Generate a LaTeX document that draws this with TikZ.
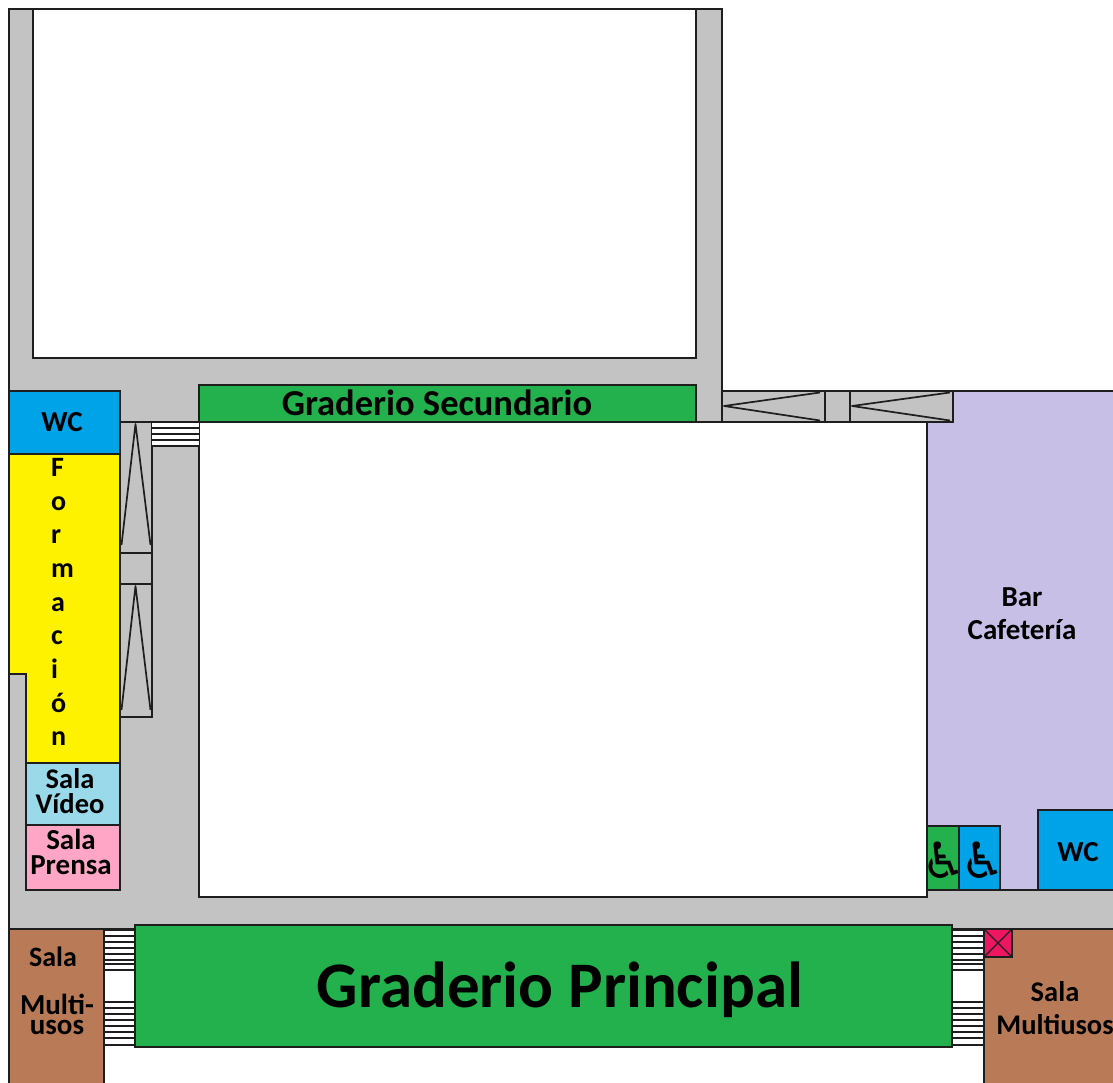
\documentclass[tikz,border=0pt]{standalone}
\usepackage{fontspec}
\setmainfont{Carlito}
\newfontfamily\symfont{DejaVu Sans}
\definecolor{pasillo}{HTML}{C3C3C3}
\definecolor{verde}{HTML}{22B14C}
\definecolor{azul}{HTML}{00A2E8}
\definecolor{amarillo}{HTML}{FFF200}
\definecolor{celeste}{HTML}{99D9EA}
\definecolor{rosa}{HTML}{FFA6C6}
\definecolor{marron}{HTML}{B97A57}
\definecolor{lila}{HTML}{C8BFE7}
\definecolor{rojo}{HTML}{F01560}
\definecolor{linea}{HTML}{1E1E1E}
\newcommand{\rotulo}[2]{\fontsize{#1}{#2}\selectfont\bfseries}
\tikzset{
	muro/.style={draw=linea,line width=2pt,line join=miter},
	texto/.style={inner sep=0pt,align=center,text=black},
	peldano/.style={draw=linea,line width=1.7pt,line join=round},
}
\begin{document}
\begin{tikzpicture}[x=1pt,y=-1pt]
	\useasboundingbox (0,0) rectangle (1113,1083);
	% pasillos
	\draw[muro,fill=pasillo] (9,9) -- (722,9) -- (722,422) -- (927,422) -- (927,890) -- (1120,890) -- (1120,929) -- (9,929) -- cycle;
	\draw[muro,fill=white] (33,9) rectangle (696,358);
	\draw[muro,fill=white] (199,422) rectangle (927,897);
	\draw[muro,fill=lila] (927,391) rectangle (1120,890);
	% rampas
	\draw[muro,fill=pasillo] (722,391) rectangle (825,422);
	\draw[muro,fill=pasillo] (825,391) rectangle (850,422);
	\draw[muro,fill=pasillo] (850,391) rectangle (953,422);
	\draw[peldano] (820,392.5) -- (724,406) -- (820,420.5);
	\draw[peldano] (950,392.5) -- (852,406) -- (950,420.5);
	\draw[muro,fill=pasillo] (120,422) rectangle (152,553);
	\draw[muro,fill=pasillo] (120,553) rectangle (152,584);
	\draw[muro,fill=pasillo] (120,584) rectangle (152,717);
	\draw[peldano] (121.5,545) -- (135.5,424) -- (150.5,545);
	\draw[peldano] (121.5,710) -- (135.5,586) -- (150.5,710);
	% escaleras
	\fill[white] (152,422) rectangle (199,446);
	\foreach \y in {422,428,434,440,446}
		\draw[peldano] (152,\y) -- (199,\y);
	\foreach \x/\w in {104/135,952/984}{
		\fill[white] (\x,930) rectangle (\w,1045);
		\foreach \y in {930,936,942,948,954,960,964,970,1002,1008,1014,1020,1026,1032,1038,1045}
			\draw[peldano] (\x,\y) -- (\w,\y);
	}
	% salas
	\draw[muro,fill=azul] (9,391) rectangle (120,454);
	\draw[muro,fill=amarillo] (9,454) -- (120,454) -- (120,763) -- (26,763) -- (26,674) -- (9,674) -- cycle;
	\draw[muro,fill=celeste] (26,763) rectangle (120,825);
	\draw[muro,fill=rosa] (26,825) rectangle (120,890);
	\draw[muro,fill=verde] (199,385) rectangle (696,422);
	\draw[muro,fill=verde] (135,925) rectangle (952,1047);
	\draw[muro,fill=marron] (9,929) rectangle (104,1090);
	\draw[muro,fill=marron] (984,929) rectangle (1120,1090);
	\draw[muro,fill=rojo] (984,929) rectangle (1012,957);
	\draw[line width=1.2pt,draw=linea] (984,929) -- (1012,957) (984,957) -- (1012,929);
	\draw[muro,fill=verde] (927,826) rectangle (959,890);
	\draw[muro,fill=azul] (959,826) rectangle (1000,890);
	\draw[muro,fill=azul] (1038,810) rectangle (1120,890);
	% rotulos
	\node[texto,font=\rotulo{29}{29}] (wcizq) at (62,422) {WC};
	\node[texto,font=\rotulo{28}{33.7},align=left,anchor=north west] (formacion) at (51,458) {F\\o\\r\\m\\a\\c\\i\\ó\\n};
	\node[texto,font=\rotulo{28.5}{24.5}] (video) at (70,791) {Sala\\Vídeo};
	\node[texto,font=\rotulo{29}{24.5}] (prensa) at (71,852) {Sala\\Prensa};
	\node[texto,font=\rotulo{36.5}{36.5}] (secundario) at (437,403) {Graderio Secundario};
	\node[texto,font=\rotulo{65}{65}] (principal) at (560,990) {Graderio Principal};
	\node[texto,font=\rotulo{29}{33}] (bar) at (1022,614) {Bar\\Cafetería};
	\node[texto,font=\rotulo{29}{29}] (wcder) at (1078,852) {WC};
	\node[texto,font=\rotulo{28}{28}] (salaizq) at (53,957) {Sala};
	\node[texto,font=\rotulo{29}{20}] (multi) at (57,1014) {Multi-\\usos};
	\node[texto,font=\rotulo{28.5}{33}] (salader) at (1055,1008) {Sala\\Multiusos};
	\node[texto,font=\symfont\fontsize{50}{50}\selectfont] (sillaa) at (944,860) {♿};
	\node[texto,font=\symfont\fontsize{50}{50}\selectfont] (sillab) at (983,860) {♿};
\end{tikzpicture}
\end{document}
